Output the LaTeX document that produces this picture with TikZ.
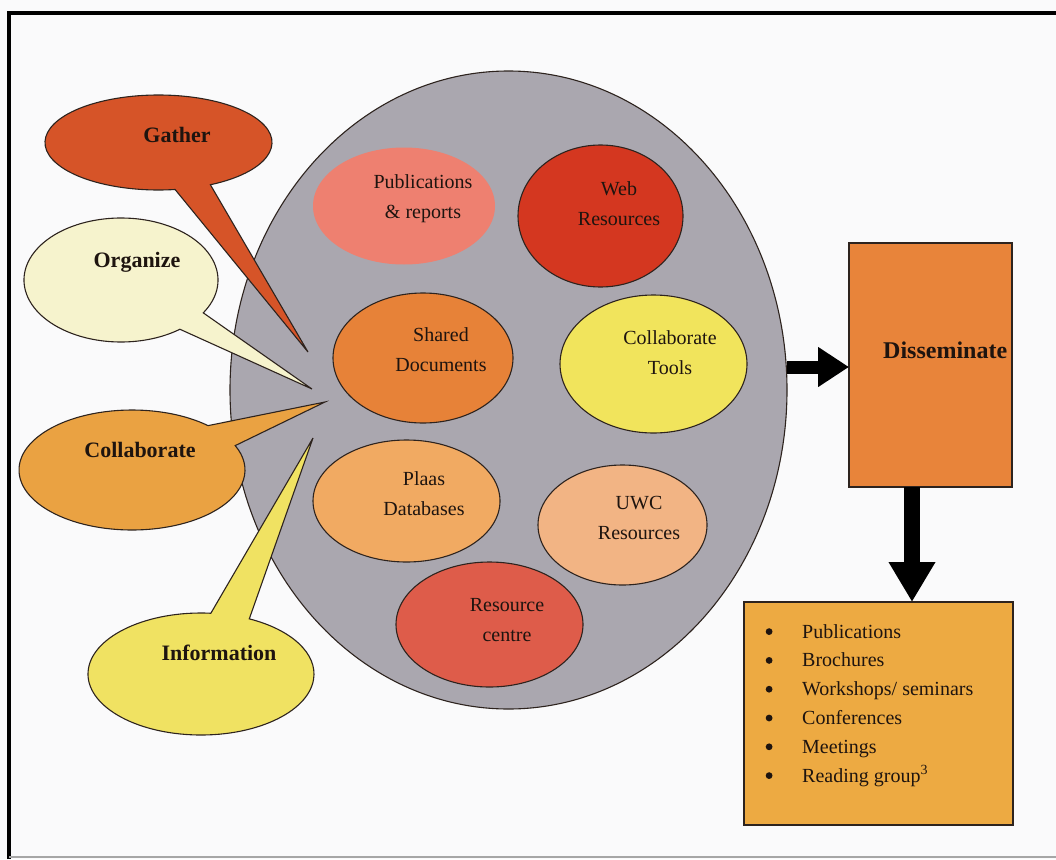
\documentclass[tikz,border=0pt]{standalone}
\usepackage{fontspec}
\setmainfont{Liberation Serif}
\usetikzlibrary{shapes.geometric,arrows.meta}

\definecolor{paper}{RGB}{250,250,251}
\definecolor{edge}{RGB}{45,35,30}
\definecolor{ink}{RGB}{30,20,15}
\definecolor{hubgray}{RGB}{170,167,175}
\definecolor{gathercol}{RGB}{214,84,40}
\definecolor{organizecol}{RGB}{246,243,205}
\definecolor{collabcol}{RGB}{234,162,66}
\definecolor{infocol}{RGB}{240,226,98}
\definecolor{pubcol}{RGB}{238,128,112}
\definecolor{webcol}{RGB}{212,55,32}
\definecolor{sharedcol}{RGB}{231,130,56}
\definecolor{toolscol}{RGB}{241,228,92}
\definecolor{plaascol}{RGB}{241,170,98}
\definecolor{uwccol}{RGB}{242,180,132}
\definecolor{centrecol}{RGB}{222,92,74}
\definecolor{disscol}{RGB}{232,132,58}
\definecolor{listcol}{RGB}{237,170,66}

% speech bubble: fill, centre x, centre y (downwards), x radius, y radius,
% angle where the outline leaves the tail, angle where it rejoins it, tip x, tip y
\newcommand\speechbubble[9]{%
  \filldraw[outline, fill=#1]
    ({#2+#4*cos(#6)},{-#3+#5*sin(#6)})
    arc[start angle=#6, end angle=#7, x radius=#4, y radius=#5]
    -- (#8,-#9) -- cycle;}
% list bullet: a heavy round dot followed by the item indent
\newcommand\listdot{\makebox[38pt][l]{\hspace{1.5pt}\raisebox{3pt}{\tikz\fill[ink] (0,0) circle (3.4pt);}}}

\begin{document}
\begin{tikzpicture}[x=1pt, y=1pt,
  outline/.style={draw=edge, line width=1.1pt},
  bubble/.style={ellipse, outline, inner sep=0pt, outer sep=0pt},
  lbl/.style={font=\fontsize{20}{30}\selectfont, align=center, text=ink, inner sep=0pt},
  calltext/.style={font=\fontsize{22}{26}\selectfont\bfseries, text=ink, inner sep=0pt},
  listtext/.style={font=\fontsize{20}{24}\selectfont, text=ink, inner sep=0pt, anchor=base west},
  rightarrow/.style={draw=black, line width=13pt, -{Triangle[width=38pt 0, length=31pt 0]}},
  downarrow/.style={draw=black, line width=16pt, -{Triangle[width=44pt 0, length=40pt 0]}},
]
% page and frame
\fill[paper] (0,0) rectangle (1056,-859);
\useasboundingbox (0,0) rectangle (1056,-859);
\draw[black, line width=3.5pt] (9,-859) -- (9,-13) -- (1056,-13);
\draw[black!35, line width=1.5pt] (9,-857) -- (1056,-857);

% central resource pool
\node[bubble, fill=hubgray, minimum width=557pt, minimum height=638pt] (hub) at (508.5,-390) {};

% speech bubbles pointing into the pool
\speechbubble{gathercol}{158.5}{142.5}{113.5}{47.5}{-62.8}{278.4}{308}{352}
\speechbubble{organizecol}{121}{280}{97}{62}{-32}{307.4}{312}{389}
\speechbubble{collabcol}{132}{470}{113}{60}{47.7}{384}{325}{402}
\speechbubble{infocol}{201}{674}{113}{61}{85}{424.7}{313}{438}

\node[calltext] (gatherT) at (177,-135) {Gather};
\node[calltext] (organizeT) at (137,-262) {Organize};
\node[calltext] (collabT) at (140,-450) {Collaborate};
\node[calltext] (infoT) at (219,-653) {Information};

% resources inside the pool
\node[bubble, draw=none, fill=pubcol, minimum width=182pt, minimum height=117pt] (pub) at (404,-206) {};
\node[bubble, fill=webcol, minimum width=165pt, minimum height=142pt] (web) at (600.5,-216) {};
\node[bubble, fill=sharedcol, minimum width=180pt, minimum height=130pt] (shared) at (423,-358) {};
\node[bubble, fill=toolscol, minimum width=187pt, minimum height=138pt] (tools) at (653.5,-364) {};
\node[bubble, fill=plaascol, minimum width=187pt, minimum height=122pt] (plaas) at (406.5,-501) {};
\node[bubble, fill=uwccol, minimum width=169pt, minimum height=120pt] (uwc) at (622.5,-525) {};
\node[bubble, fill=centrecol, minimum width=187pt, minimum height=125pt] (centre) at (489.5,-624.5) {};

\node[lbl] (pubT) at (423,-199) {Publications\\\& reports};
\node[lbl] (webT) at (619,-204) {Web\\Resources};
\node[lbl] (sharedT) at (441,-350) {Shared\\Documents};
\node[lbl] (toolsT) at (670,-353) {Collaborate\\Tools};
\node[lbl] (plaasT) at (424,-494) {Plaas\\Databases};
\node[lbl] (uwcT) at (639,-518) {UWC\\Resources};
\node[lbl] (centreT) at (507,-620) {Resource\\centre};

% dissemination
\node[rectangle, outline, fill=disscol, inner sep=0pt, outer sep=0pt,
      minimum width=163pt, minimum height=244pt] (diss) at (930.5,-365) {};
\node[calltext, font=\fontsize{24}{28}\selectfont\bfseries, anchor=west] (dissT) at (883,-350) {Disseminate};

\node[rectangle, outline, fill=listcol, inner sep=0pt, outer sep=0pt,
      minimum width=269pt, minimum height=223pt] (list) at (878.5,-713.5) {};
\node[listtext] (item1) at (764,-638.0) {\listdot Publications};
\node[listtext] (item2) at (764,-666.8) {\listdot Brochures};
\node[listtext] (item3) at (764,-695.6) {\listdot Workshops/ seminars};
\node[listtext] (item4) at (764,-724.4) {\listdot Conferences};
\node[listtext] (item5) at (764,-753.2) {\listdot Meetings};
\node[listtext] (item6) at (764,-782.0) {\listdot Reading group\textsuperscript{3}};

% flow arrows
\coordinate (ay) at (0,-367);
\coordinate (ax) at (912,0);
\draw[rightarrow] (hub.east |- ay) -- (diss.west |- ay);
\draw[downarrow] (diss.south -| ax) -- (list.north -| ax);
\end{tikzpicture}
\end{document}
